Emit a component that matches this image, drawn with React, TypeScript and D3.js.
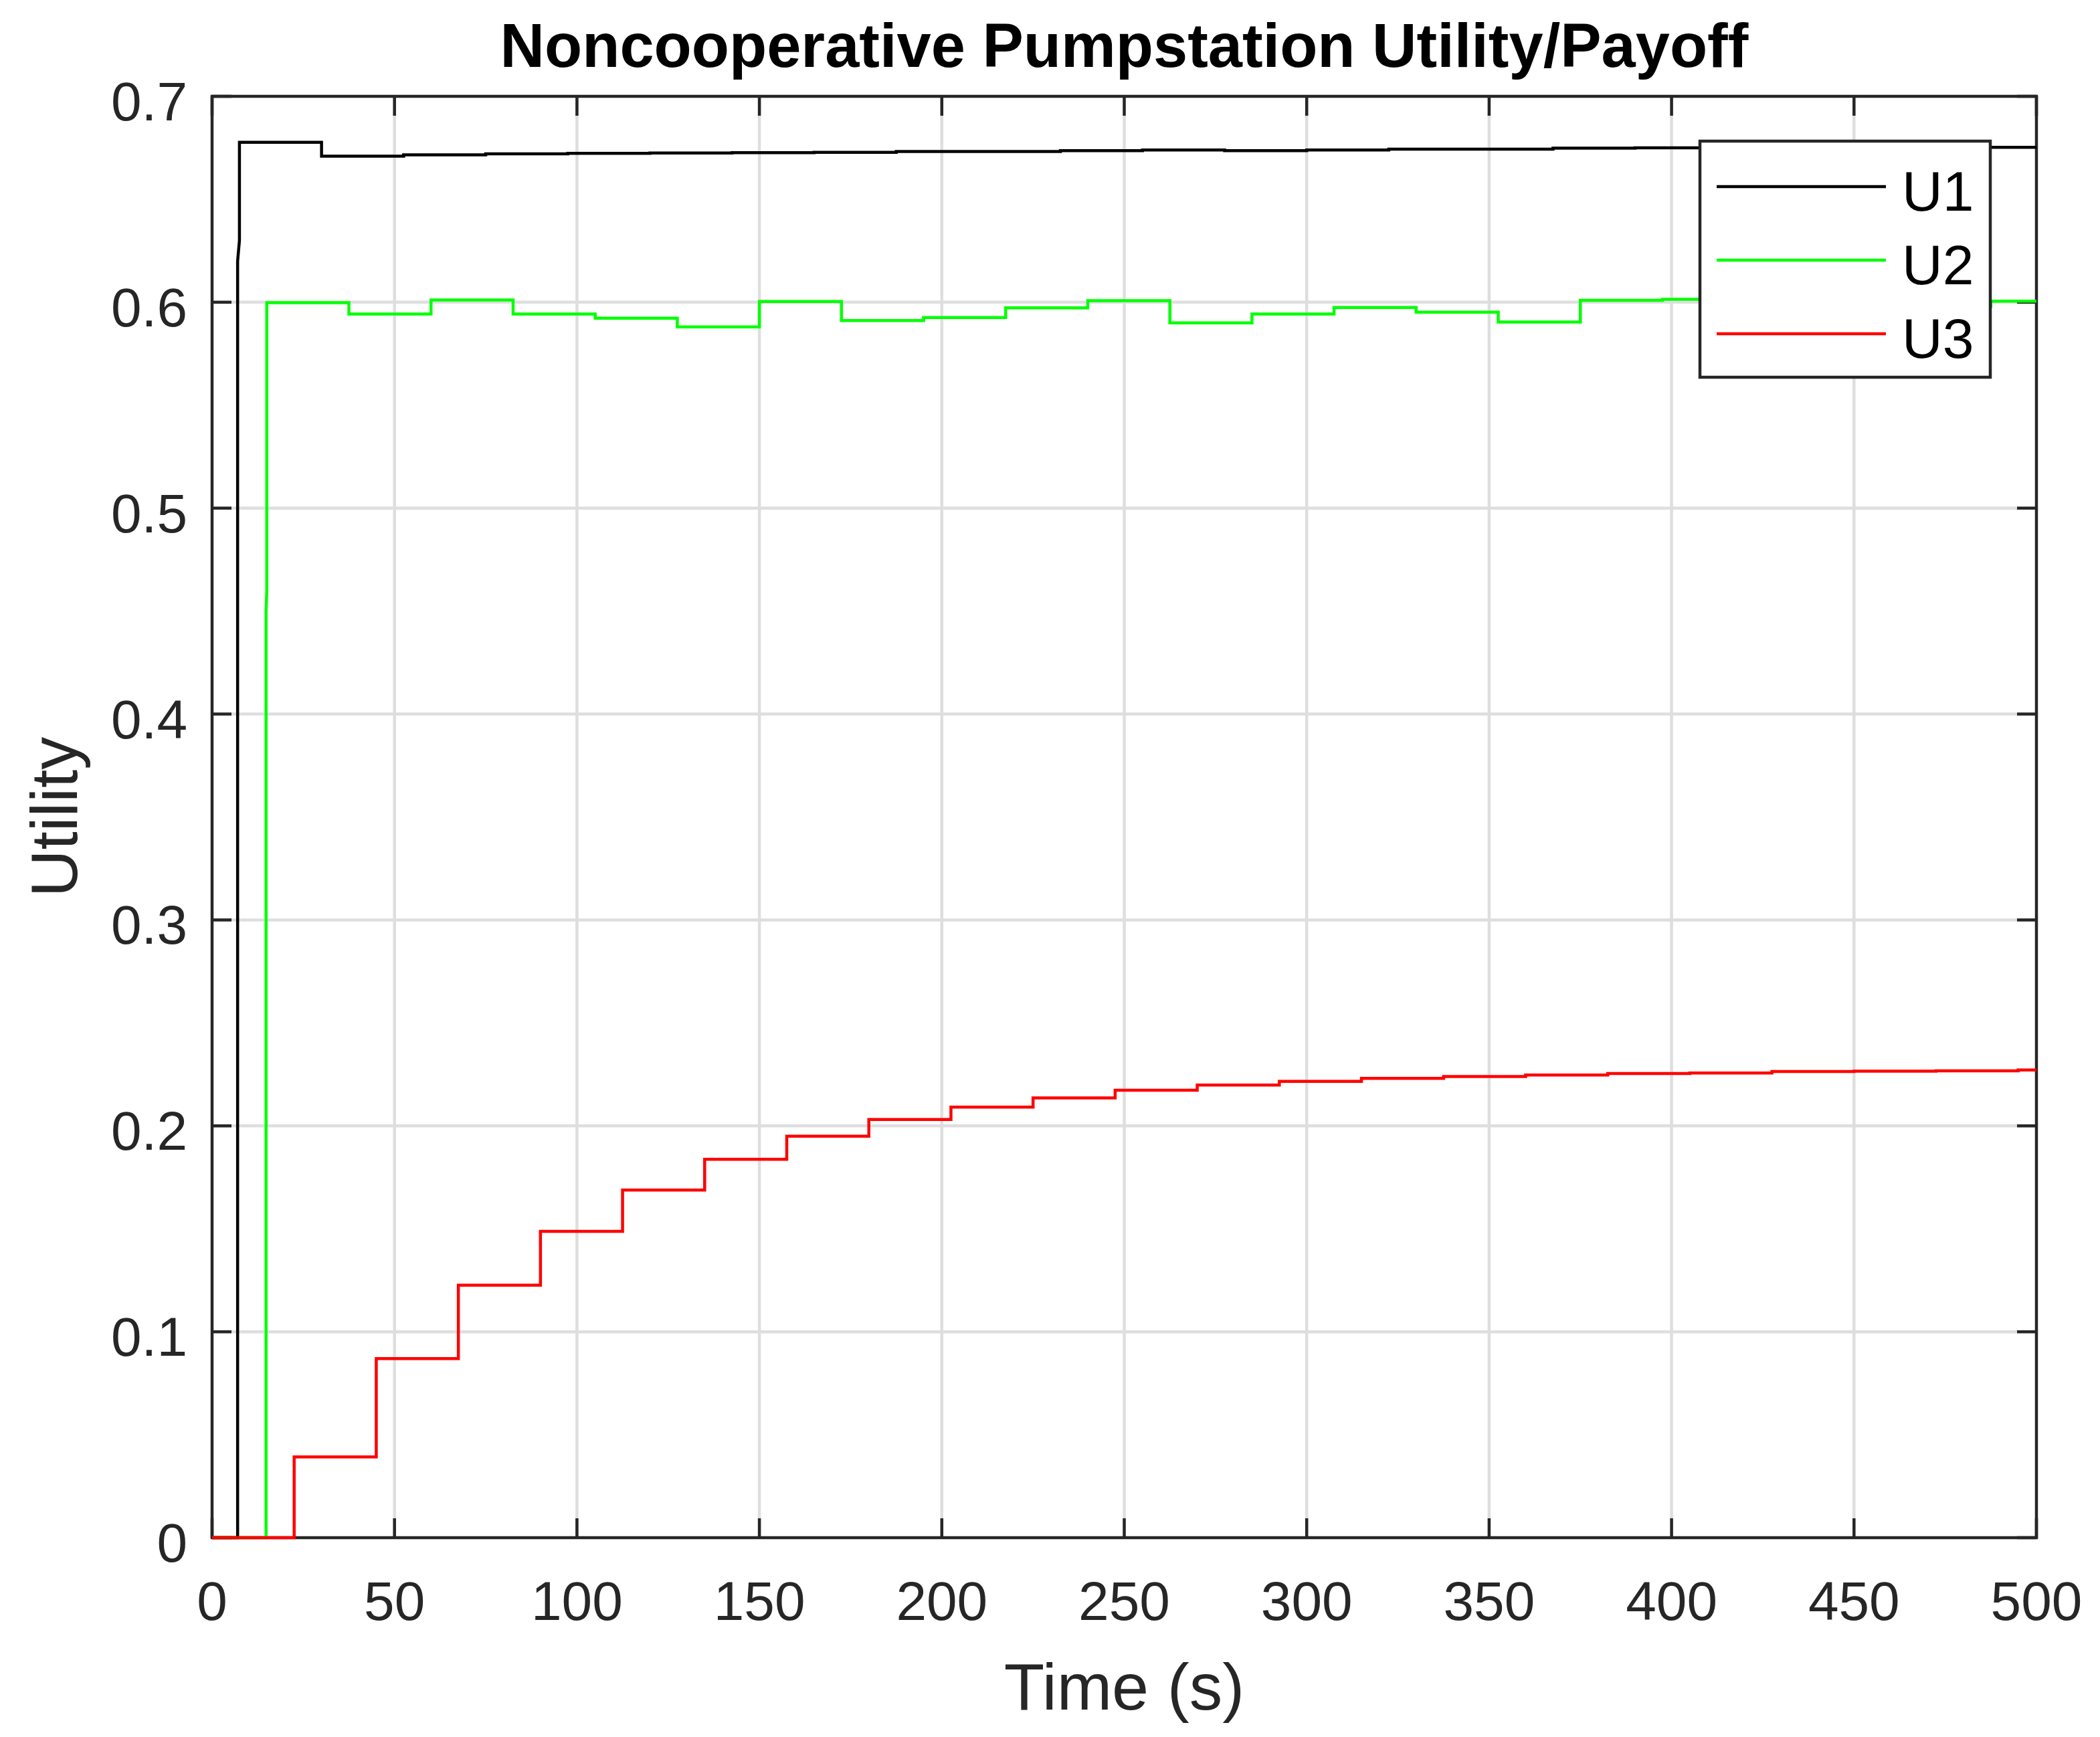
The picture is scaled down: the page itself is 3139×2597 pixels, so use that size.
import React from 'react';
import * as d3 from 'd3';

// step start times (s) and held values
const u1Lead: [number, number][] = [[0, 0], [7.0, 0], [7.0, 0.62], [7.5, 0.63]];
const u1Starts = [7.5, 30, 52.5, 75, 97.5, 120, 142.5, 165, 187.5, 210, 232.5, 255, 277.5, 300, 322.5, 345, 367.5, 390, 412.5, 435, 457.5, 480];
const u1Values = [0.6777, 0.6709, 0.6716, 0.6721, 0.6723, 0.6725, 0.6726, 0.6728, 0.6732, 0.6732, 0.6736, 0.6739, 0.6736, 0.6739, 0.6743, 0.6743, 0.6748, 0.675, 0.6751, 0.6751, 0.6752, 0.6752];

const u2Lead: [number, number][] = [[0, 0], [14.8, 0], [14.8, 0.45], [15, 0.46]];
const u2Starts = [15, 37.5, 60, 82.5, 105, 127.5, 150, 172.5, 195, 217.5, 240, 262.5, 285, 307.5, 330, 352.5, 375, 397.5, 420, 442.5, 465, 487.5];
const u2Values = [0.5998, 0.5943, 0.6011, 0.5943, 0.5922, 0.588, 0.6004, 0.5911, 0.5926, 0.5973, 0.6008, 0.59, 0.5943, 0.5974, 0.5952, 0.5904, 0.6009, 0.6014, 0.601, 0.599, 0.598, 0.6005];

const u3Starts = [0, 22.5, 45, 67.5, 90, 112.5, 135, 157.5, 180, 202.5, 225, 247.5, 270, 292.5, 315, 337.5, 360, 382.5, 405, 427.5, 450, 472.5, 495];
const u3Values = [0, 0.0392, 0.087, 0.1226, 0.1488, 0.1688, 0.1838, 0.195, 0.2031, 0.2091, 0.2136, 0.2173, 0.2198, 0.2216, 0.2231, 0.224, 0.2247, 0.2254, 0.2257, 0.2264, 0.2266, 0.2267, 0.2271];

const xTicks = [0, 50, 100, 150, 200, 250, 300, 350, 400, 450, 500];
const yTicks = [0, 0.1, 0.2, 0.3, 0.4, 0.5, 0.6, 0.7];

const seriesNames = ['U1', 'U2', 'U3'];
const seriesColors = ['#000000', '#00ff00', '#ff0000'];

const W = 3139;
const H = 2597;
const left = 317, right = 3044, top = 144, bottom = 2299;
const axisColor = '#262626';
const gridColor = '#dedede';
const font = '"Liberation Sans", Arial, Helvetica, sans-serif';

function stepPoints(starts: number[], values: number[], lead: [number, number][] = [], end = 500) {
  const pts: [number, number][] = [...lead];
  starts.forEach((s, i) => {
    const next = i + 1 < starts.length ? starts[i + 1] : end;
    pts.push([s, values[i]]);
    pts.push([next, values[i]]);
  });
  return pts;
}

const App: React.FC = () => {
  const x = d3.scaleLinear().domain([0, 500]).range([left, right]);
  const y = d3.scaleLinear().domain([0, 0.7]).range([bottom, top]);
  const line = d3.line<[number, number]>().x(d => x(d[0])).y(d => y(d[1]));

  const series = [
    stepPoints(u1Starts, u1Values, u1Lead),
    stepPoints(u2Starts, u2Values, u2Lead),
    stepPoints(u3Starts, u3Values),
  ];

  const tickLen = 29;
  const sw = 4.5;

  // legend box
  const lgX0 = 2541, lgX1 = 2975, lgY0 = 211, lgY1 = 564;
  const lgRows = [279, 389, 499];

  return (
    <div style={{ position: 'absolute', left: 0, top: 0 }}>
      <svg width={W} height={H} style={{ display: 'block', background: '#fff' }} fontFamily={font}>
        <rect x={0} y={0} width={W} height={H} fill="#fff" />

        {/* grid */}
        <g stroke={gridColor} strokeWidth={sw}>
          {xTicks.slice(1, -1).map(t => (
            <line key={'gx' + t} x1={x(t)} x2={x(t)} y1={top} y2={bottom} />
          ))}
          {yTicks.slice(1, -1).map(t => (
            <line key={'gy' + t} x1={left} x2={right} y1={y(t)} y2={y(t)} />
          ))}
        </g>

        {/* box and ticks */}
        <g stroke={axisColor} strokeWidth={sw} fill="none">
          <rect x={left} y={top} width={right - left} height={bottom - top} />
          {xTicks.map(t => (
            <g key={'tx' + t}>
              <line x1={x(t)} x2={x(t)} y1={bottom} y2={bottom - tickLen} />
              <line x1={x(t)} x2={x(t)} y1={top} y2={top + tickLen} />
            </g>
          ))}
          {yTicks.map(t => (
            <g key={'ty' + t}>
              <line x1={left} x2={left + tickLen} y1={y(t)} y2={y(t)} />
              <line x1={right} x2={right - tickLen} y1={y(t)} y2={y(t)} />
            </g>
          ))}
        </g>

        {/* tick labels */}
        <g fill={axisColor} fontSize={82}>
          {xTicks.map(t => (
            <text key={'lx' + t} x={x(t)} y={2422} textAnchor="middle">{t}</text>
          ))}
          {yTicks.map(t => (
            <text key={'ly' + t} x={280} y={y(t) + 36} textAnchor="end">{t === 0 ? '0' : t.toFixed(1)}</text>
          ))}
        </g>

        {/* data */}
        <g fill="none" strokeWidth={sw} strokeLinejoin="miter">
          {series.map((pts, i) => (
            <path key={seriesNames[i]} d={line(pts) || ''} stroke={seriesColors[i]} />
          ))}
        </g>

        {/* axis labels and title */}
        <text x={(left + right) / 2} y={2556} textAnchor="middle" fontSize={99} fill={axisColor}>Time (s)</text>
        <text transform={`translate(115,${(top + bottom) / 2}) rotate(-90)`} textAnchor="middle" fontSize={98} fill={axisColor}>Utility</text>
        <text x={(left + right) / 2} y={100} textAnchor="middle" fontSize={92} fontWeight="bold" fill="#000">Noncooperative Pumpstation Utility/Payoff</text>

        {/* legend */}
        <g>
          <rect x={lgX0} y={lgY0} width={lgX1 - lgX0} height={lgY1 - lgY0} fill="#fff" stroke={axisColor} strokeWidth={sw} />
          {seriesNames.map((n, i) => (
            <g key={'lg' + n}>
              <line x1={2566} x2={2819} y1={lgRows[i]} y2={lgRows[i]} stroke={seriesColors[i]} strokeWidth={sw} />
              <text x={2843} y={lgRows[i] + 36} fontSize={84} fill="#000">{n}</text>
            </g>
          ))}
        </g>
      </svg>
    </div>
  );
};

export default App;
